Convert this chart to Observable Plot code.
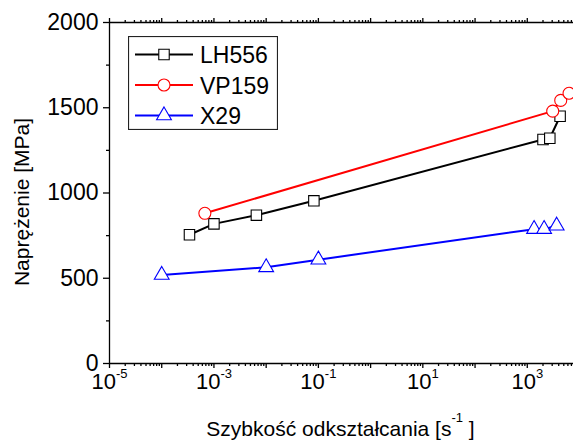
<!DOCTYPE html>
<html>
<head>
<meta charset="utf-8">
<script src="https://cdn.jsdelivr.net/npm/d3@7"></script>
<script src="https://cdn.jsdelivr.net/npm/@observablehq/plot@0.6"></script>
<style>
  html, body { margin: 0; padding: 0; background: white; }
  #wrap { position: relative; width: 573px; height: 441px; overflow: hidden; background: white; font-family: "Liberation Sans", Arial, sans-serif; }
  #legend { position: absolute; left: 127.5px; top: 35.5px; }
</style>
</head>
<body>
<div id="wrap"></div>
<script>
// ---- data ----
const seriesNames = ["LH556", "VP159", "X29"];
const seriesColors = ["#000000", "#ff0000", "#0000ff"];
const seriesSymbols = ["square", "circle", "triangle"];

const lhX = [3.4e-4, 1.0e-3, 6.5e-3, 0.082, 2000, 2700, 4250];
const lhY = [755, 819, 870, 954, 1314, 1321, 1450];
const vpX = [6.7e-4, 3070, 4370, 6300];
const vpY = [881, 1480, 1543, 1585];
const x29X = [1e-4, 0.01, 0.1, 1350, 2100, 3650];
const x29Y = [519, 564, 609, 788, 788, 808];

const yTicks = [0, 500, 1000, 1500, 2000];
const yMinorTicks = [250, 750, 1250, 1750];
const xExponents = [-5, -4, -3, -2, -1, 0, 1, 2, 3, 4];
const xLabelExponents = [-5, -3, -1, 1, 3];

const xLabel = "Szybkość odkształcania [s";
const xLabelSup = "-1";
const xLabelEnd = " ]";
const yLabel = "Naprężenie [MPa]";

// ---- build ----
const toRows = (xs, ys, name) => xs.map((x, i) => ({x, y: ys[i], name}));
const series = [
  toRows(lhX, lhY, seriesNames[0]),
  toRows(vpX, vpY, seriesNames[1]),
  toRows(x29X, x29Y, seriesNames[2])
];
const xMajor = xExponents.map(e => Math.pow(10, e));
const xMinor = [];
xExponents.slice(0, -1).forEach(e => { for (let m = 2; m <= 9; m++) xMinor.push(m * Math.pow(10, e)); });
const symbolR = {square: 5.9, circle: 6, triangle: 5.5};

const marks = [
  Plot.ruleX([1e-5], {stroke: "black", strokeWidth: 1.3}),
  Plot.ruleY([0, 2000], {stroke: "black", strokeWidth: 1.3}),
  Plot.axisY(yTicks, {anchor: "left", tickSize: 6, tickPadding: 5, fontSize: 23, tickFormat: d => String(d), label: null, strokeWidth: 1.3}),
  Plot.axisY(yMinorTicks, {anchor: "left", tickSize: 3, tickFormat: () => "", label: null, strokeWidth: 1.3}),
  Plot.axisX(xMajor, {anchor: "bottom", tickSize: 5, tickPadding: 5, fontSize: 22, label: null, strokeWidth: 1.3,
    tickFormat: d => { const e = Math.round(Math.log10(d)); return xLabelExponents.includes(e) ? "10^" + e : ""; }}),
  Plot.axisX(xMinor, {anchor: "bottom", tickSize: 3, tickFormat: () => "", label: null, strokeWidth: 1.3}),
  Plot.axisX(xMajor, {anchor: "top", tickSize: 5, tickFormat: () => "", label: null, strokeWidth: 1.3}),
  Plot.axisX(xMinor, {anchor: "top", tickSize: 3, tickFormat: () => "", label: null, strokeWidth: 1.3}),
  Plot.text([xLabel], {frameAnchor: "bottom", lineAnchor: "bottom", textAnchor: "middle", dy: 72, fontSize: 21, dx: -4}),
  Plot.text([yLabel], {frameAnchor: "left", lineAnchor: "bottom", textAnchor: "middle", rotate: -90, dx: -81, dy: 9, fontSize: 21})
];
series.forEach((rows, i) => {
  marks.push(Plot.line(rows, {x: "x", y: "y", stroke: seriesColors[i], strokeWidth: 2}));
});
series.forEach((rows, i) => {
  marks.push(Plot.dot(rows, {x: "x", y: "y", symbol: () => seriesSymbols[i], r: symbolR[seriesSymbols[i]], fill: "white", stroke: seriesColors[i], strokeWidth: 1.1}));
});

const chart = Plot.plot({
  width: 573,
  height: 441,
  marginLeft: 109,
  marginRight: -6,
  marginTop: 22,
  marginBottom: 78,
  x: {type: "log", domain: [1e-5, 1e4]},
  y: {domain: [0, 2000]},
  symbol: {type: "identity"},
  style: {fontFamily: "'Liberation Sans', Arial, sans-serif", fontSize: "22px", color: "black", background: "white"},
  marks
});

// superscripts for x tick labels
d3.select(chart).selectAll("text").each(function() {
  const t = this.textContent;
  const m = /^10\^(-?\d+)$/.exec(t);
  if (m) {
    const sel = d3.select(this);
    sel.text("");
    sel.append("tspan").text("10");
    sel.append("tspan").attr("dy", -11).attr("font-size", 13).text(m[1]);
  } else if (t === xLabel) {
    const sel = d3.select(this);
    sel.text("");
    sel.append("tspan").text(xLabel);
    sel.append("tspan").attr("dy", -14).attr("font-size", 13).text(xLabelSup);
    sel.append("tspan").attr("dy", 14).text(xLabelEnd);
  }
});

const wrap = document.getElementById("wrap");
wrap.appendChild(chart);

// legend
const lw = 150, lh = 94;
const leg = d3.create("svg").attr("id", "legend").attr("width", lw).attr("height", lh)
  .style("font-family", "'Liberation Sans', Arial, sans-serif");
leg.append("rect").attr("x", 0.5).attr("y", 0.5).attr("width", lw - 1).attr("height", lh - 1)
  .attr("fill", "white").attr("stroke", "#222").attr("stroke-width", 1.2);
const symMap = {square: d3.symbolSquare, circle: d3.symbolCircle, triangle: d3.symbolTriangle};
seriesNames.forEach((name, i) => {
  const cy = 18.5 + i * 30.5;
  const g = leg.append("g");
  g.append("line").attr("x1", 7).attr("x2", 65).attr("y1", cy).attr("y2", cy)
    .attr("stroke", seriesColors[i]).attr("stroke-width", 2);
  const r = symbolR[seriesSymbols[i]];
  g.append("path").attr("d", d3.symbol(symMap[seriesSymbols[i]], Math.PI * r * r)())
    .attr("transform", `translate(36,${cy})`)
    .attr("fill", "white").attr("stroke", seriesColors[i]).attr("stroke-width", 1.1);
  g.append("text").attr("x", 72).attr("y", cy + 8.5).attr("font-size", 23).attr("fill", "black").text(name);
});
wrap.appendChild(leg.node());
</script>
</body>
</html>
